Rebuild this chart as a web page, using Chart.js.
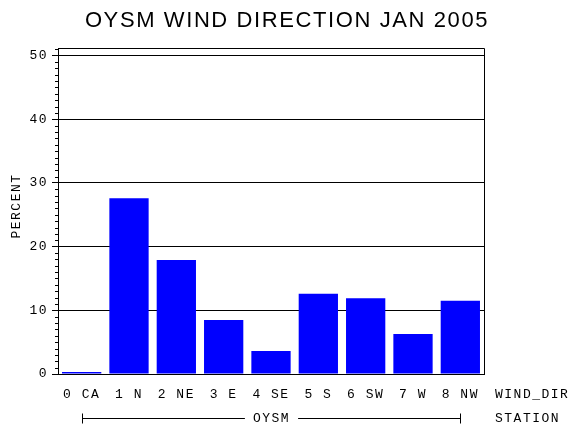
<!DOCTYPE html>
<html>
<head>
<meta charset="utf-8">
<script src="https://cdn.jsdelivr.net/npm/chart.js@4/dist/chart.umd.min.js"></script>
<style>
  html, body { margin: 0; padding: 0; background: #fff; }
  canvas { display: block; }
</style>
</head>
<body>
<canvas id="chart" width="570" height="430"></canvas>
<script>
// ================= DATA =================
const dirLabels = ["0 CA", "1 N", "2 NE", "3 E", "4 SE", "5 S", "6 SW", "7 W", "8 NW"];
const percent = [0.3, 27.6, 17.9, 8.5, 3.6, 12.6, 11.9, 6.3, 11.5];
const yTicks = [0, 10, 20, 30, 40, 50];
const stationName = "OYSM";

const MONO = "'Liberation Mono', 'DejaVu Sans Mono', monospace";

// ================= EXTRAS =================
const extras = {
  id: "extras",
  beforeDraw(chart) {
    chart.ctx.letterSpacing = "1.5px";
  },
  afterDraw(chart) {
    const ctx = chart.ctx;
    const a = chart.chartArea;
    const x = chart.scales.x;
    const y = chart.scales.y;

    ctx.save();
    ctx.strokeStyle = "#000";
    ctx.fillStyle = "#000";
    ctx.lineWidth = 1;

    // frame top + right
    ctx.beginPath();
    ctx.moveTo(a.left, a.top + 0.5);
    ctx.lineTo(a.right + 0.5, a.top + 0.5);
    ctx.lineTo(a.right + 0.5, a.bottom);
    ctx.stroke();

    // minor ticks every 1
    ctx.beginPath();
    for (let v = 1; v < y.max; v++) {
      if (v % 10 === 0) continue;
      const py = Math.round(y.getPixelForValue(v)) + 0.5;
      ctx.moveTo(a.left - 3, py);
      ctx.lineTo(a.left, py);
    }
    ctx.stroke();

    // title
    ctx.letterSpacing = "1.6px";
    ctx.font = "22px 'Liberation Sans', Arial, sans-serif";
    ctx.textAlign = "center";
    ctx.textBaseline = "middle";
    ctx.fillText("OYSM WIND DIRECTION JAN 2005", 287, 21);

    // axis texts
    ctx.letterSpacing = "1.5px";
    ctx.font = "13px " + MONO;
    ctx.textAlign = "left";
    ctx.fillText("WIND_DIR", 495, 395);
    ctx.fillText("STATION", 495, 419);

    ctx.save();
    ctx.translate(17, 206);
    ctx.rotate(-Math.PI / 2);
    ctx.textAlign = "center";
    ctx.fillText("PERCENT", 0, 0);
    ctx.restore();

    // station bracket
    const x0 = Math.round(x.getPixelForValue(0)) + 0.5;
    const x1 = Math.round(x.getPixelForValue(dirLabels.length - 1)) + 0.5;
    const mid = (x0 + x1) / 2;
    const ly = 418.5;
    ctx.textAlign = "center";
    const tw = ctx.measureText(stationName).width;
    ctx.fillText(stationName, mid, 419);
    ctx.beginPath();
    ctx.moveTo(x0, ly);
    ctx.lineTo(mid - tw / 2 - 8, ly);
    ctx.moveTo(mid + tw / 2 + 8, ly);
    ctx.lineTo(x1, ly);
    ctx.moveTo(x0, ly - 5);
    ctx.lineTo(x0, ly + 5);
    ctx.moveTo(x1, ly - 5);
    ctx.lineTo(x1, ly + 5);
    ctx.stroke();

    ctx.restore();
  },
};

// ================= CHART =================
new Chart(document.getElementById("chart"), {
  type: "bar",
  data: {
    labels: dirLabels,
    datasets: [
      {
        data: percent,
        backgroundColor: "#0000ff",
        borderWidth: 0,
        barPercentage: 0.83,
        categoryPercentage: 1,
      },
    ],
  },
  options: {
    responsive: false,
    animation: false,
    devicePixelRatio: 1,
    layout: { padding: { left: 0, top: 48, right: 86, bottom: 0 } },
    plugins: {
      legend: { display: false },
      title: { display: false },
      tooltip: { enabled: false },
    },
    scales: {
      x: {
        grid: { display: false },
        border: { color: "#000", width: 1 },
        ticks: {
          color: "#000",
          font: { family: MONO, size: 13 },
          padding: 5,
          maxRotation: 0,
          autoSkip: false,
        },
        afterFit(s) {
          s.height = 56;
        },
      },
      y: {
        min: 0,
        max: 51.2,
        z: 1,
        afterBuildTicks(s) {
          s.ticks = yTicks.map((v) => ({ value: v }));
        },
        grid: { color: "#000", lineWidth: 1, tickLength: 6 },
        border: { color: "#000", width: 1 },
        ticks: {
          color: "#000",
          font: { family: MONO, size: 13 },
          padding: 4,
        },
        afterFit(s) {
          s.width = 58;
        },
      },
    },
  },
  plugins: [extras],
});
</script>
</body>
</html>
